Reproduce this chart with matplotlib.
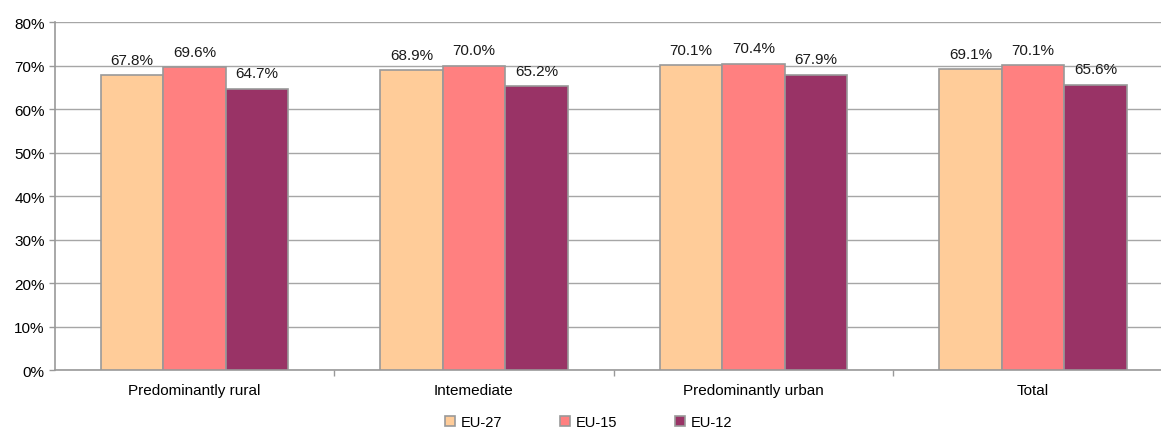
import matplotlib
matplotlib.use("Agg")
import matplotlib.pyplot as plt
import numpy as np

plt.rcParams['font.family'] = ['Liberation Sans', 'DejaVu Sans']

categories = ["Predominantly rural", "Intemediate", "Predominantly urban", "Total"]
series_names = ["EU-27", "EU-15", "EU-12"]
eu27 = [67.8, 68.9, 70.1, 69.1]
eu15 = [69.6, 70.0, 70.4, 70.1]
eu12 = [64.7, 65.2, 67.9, 65.6]
colors = ["#FFCC99", "#FF8080", "#993366"]
y_ticks = [0, 10, 20, 30, 40, 50, 60, 70, 80]

fig = plt.figure(figsize=(11.61, 4.35), dpi=100)
# plot area runs slightly past the right edge of the canvas
ax = fig.add_axes([0.047, 0.147, 0.963, 0.800])

x = np.arange(len(categories))
w = 0.2236
for i, (vals, name, col) in enumerate(zip([eu27, eu15, eu12], series_names, colors)):
    pos = x + (i - 1) * w
    bars = ax.bar(pos, vals, width=w, color=col, edgecolor="#999999", linewidth=1.2, label=name, zorder=3)
    for b, v in zip(bars, vals):
        ax.annotate(f"{v:.1f}%", (b.get_x() + b.get_width() / 2, v), xytext=(0, 6),
                    textcoords="offset points", ha="center", va="bottom", fontsize=11, color="#1a1a1a", zorder=4)

ax.set_xlim(-0.5, len(categories) - 0.5)
ax.set_ylim(0, 80)
ax.set_yticks(y_ticks)
ax.set_yticklabels([f"{t}%" for t in y_ticks], fontsize=11)
ax.set_xticks(x)
ax.set_xticklabels(categories, fontsize=11)
ax.tick_params(axis='x', length=0, pad=9)
ax.set_xticks(np.arange(0.5, len(categories) - 1, 1.0), minor=True)
ax.tick_params(axis='x', which='minor', length=4, color="#999999", width=1)
ax.tick_params(axis='y', length=4, color="#999999", width=1, pad=3)
ax.grid(axis='y', color="#A6A6A6", linewidth=1, zorder=0)
for s in ["top", "right"]:
    ax.spines[s].set_visible(False)
for s in ["left", "bottom"]:
    ax.spines[s].set_color("#999999")
    ax.spines[s].set_linewidth(1.2)

handles, labels = ax.get_legend_handles_labels()
fig.legend(handles, labels, loc="center", bbox_to_anchor=(0.507, 0.027), ncol=3, frameon=False,
           fontsize=10.5, handlelength=0.65, handleheight=0.65, handletextpad=0.4, columnspacing=4.0)

fig.savefig("out.png", dpi=100)
